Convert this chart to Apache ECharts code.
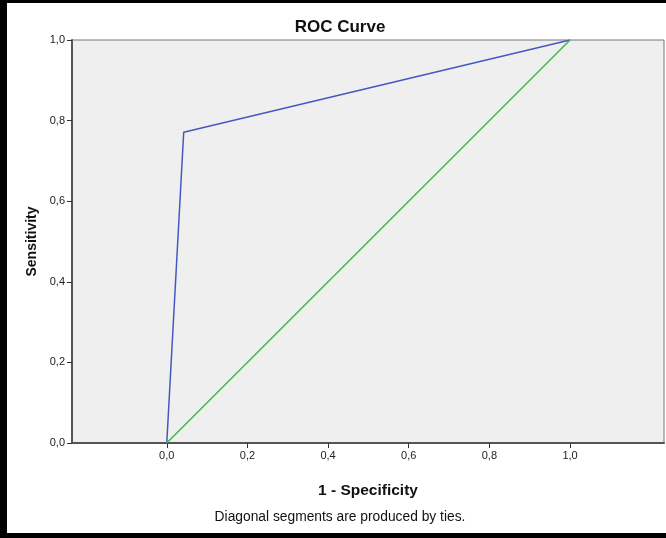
<!DOCTYPE html>
<html><head><meta charset="utf-8">
<script src="https://cdn.jsdelivr.net/npm/echarts@6/dist/echarts.min.js"></script>
<style>html,body{margin:0;padding:0;background:#fff}#c{width:666px;height:538px}</style>
</head><body><div id="c"></div>
<script>
var rocX = [0, 0.042, 1];
var rocY = [0, 0.771, 1];
var diagX = [0, 1];
var diagY = [0, 1];
var xTicks = [0, 0.2, 0.4, 0.6, 0.8, 1.0];
var xMin = -0.235, xMax = 1.233;

function fmt(v){ return Number(v).toFixed(1).replace('.', ','); }
function pairs(xs, ys){ return xs.map(function(x,i){ return [x, ys[i]]; }); }

var FF = 'Liberation Sans, Arial, sans-serif';
var chart = echarts.init(document.getElementById('c'), null, {renderer:'canvas'});
chart.setOption({
  animation:false,
  backgroundColor:'#ffffff',
  textStyle:{fontFamily:FF},
  grid:{left:72, top:40, right:2, bottom:95, show:true, backgroundColor:'#efefef', borderColor:'#777', borderWidth:1},
  xAxis:{type:'value', min:xMin, max:xMax,
    name:'1 - Specificity', nameLocation:'middle', nameGap:40,
    nameTextStyle:{fontSize:15.5, fontWeight:'bold', color:'#111', fontFamily:FF},
    axisLine:{show:true, onZero:false, lineStyle:{color:'#555', width:2}},
    axisTick:{show:true, inside:false, length:5, customValues:xTicks, lineStyle:{color:'#333'}},
    axisLabel:{customValues:xTicks, formatter:fmt, fontSize:11, color:'#222', margin:7},
    splitLine:{show:false}},
  yAxis:{type:'value', min:0, max:1, interval:0.2,
    name:'Sensitivity', nameLocation:'middle', nameGap:30, nameRotate:90,
    nameTextStyle:{fontSize:14, fontWeight:'bold', color:'#111', fontFamily:FF},
    axisLine:{show:true, onZero:false, lineStyle:{color:'#555', width:2}},
    axisTick:{show:true, inside:false, length:5, lineStyle:{color:'#333'}},
    axisLabel:{formatter:fmt, fontSize:11, color:'#222', margin:7},
    splitLine:{show:false}},
  series:[
    {type:'line', data:pairs(rocX, rocY), showSymbol:false, symbol:'none',
      lineStyle:{color:'#4459c0', width:1.5}},
    {type:'line', data:pairs(diagX, diagY), showSymbol:false, symbol:'none',
      lineStyle:{color:'#3dbb4a', width:1.5}}
  ],
  graphic:[
    {type:'text', x:340, y:19, style:{text:'ROC Curve', align:'center', fontSize:17, fontWeight:'bold', fill:'#111', fontFamily:FF}},
    {type:'text', x:340, y:510, style:{text:'Diagonal segments are produced by ties.', align:'center', fontSize:13.8, fill:'#111', fontFamily:FF}},
    {type:'rect', shape:{x:0, y:0, width:666, height:3}, style:{fill:'#000'}},
    {type:'rect', shape:{x:0, y:0, width:7, height:538}, style:{fill:'#000'}},
    {type:'rect', shape:{x:0, y:533, width:666, height:5}, style:{fill:'#000'}}
  ]
});
</script></body></html>
